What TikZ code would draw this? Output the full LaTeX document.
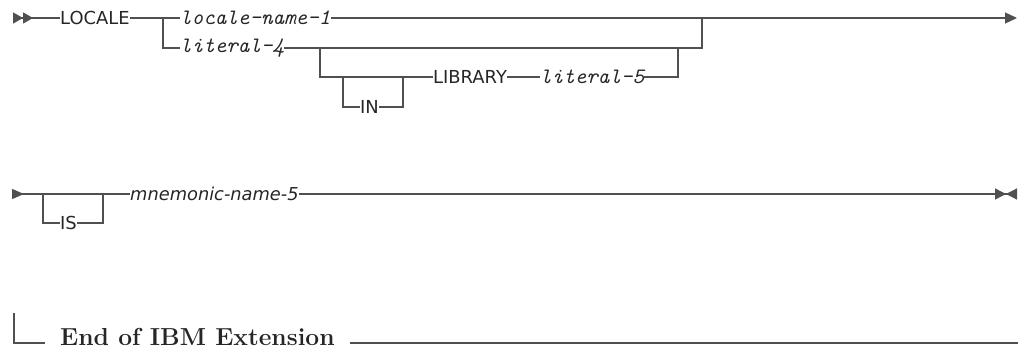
\documentclass[tikz,border=0pt]{standalone}
\usepackage{fontspec}
\usetikzlibrary{arrows.meta,positioning,calc}
\newfontfamily\railsans{DejaVu Sans}
\definecolor{railgray}{HTML}{505050}
\definecolor{inkgray}{HTML}{262626}

\begin{document}
\begin{tikzpicture}[x=1pt, y=-1pt,
    rail/.style={draw=railgray, line width=1.3pt},
    kw/.style={anchor=west, inner sep=0pt, text=inkgray, font=\fontsize{17.9}{21}\selectfont\railsans},
    var/.style={anchor=west, inner sep=0pt, text=inkgray, font=\fontsize{22}{26}\selectfont\ttfamily\itshape},
    mnem/.style={anchor=west, inner sep=0pt, text=inkgray, font=\fontsize{17.8}{21}\selectfont\railsans\itshape},
    endtxt/.style={anchor=base west, inner sep=0pt, text=inkgray, font=\fontsize{24.6}{30}\selectfont\bfseries},
    endrule/.style={draw=railgray, line width=1.7pt},
]
\useasboundingbox (0,0) rectangle (1024,351);

% first line of the diagram
\coordinate (r1s) at (13,18);
\node[kw] (locale) at (60,18) {LOCALE};
\coordinate (c1) at (163,18);
\node[var] (lname) at (180,18) {locale-name-1};
\node[var] (lit4) at (180,48) {literal-4};
\coordinate (j1) at (702,18);
\coordinate (r1e) at (1017,18);

\draw[rail, {Triangle[reversed, length=10pt, width=11pt] Triangle[reversed, length=10pt, width=11pt]}-] (r1s) -- (locale.west);
\draw[rail] (locale.east) -- (c1) -- (lname.west);
\draw[rail, -{Triangle[length=12pt, width=11pt]}] (lname.east) -- (r1e);
\draw[rail] (c1) |- (lit4.west);
\draw[rail] (lit4.east) -| (j1);

% optional LIBRARY part
\coordinate (o1) at (320,48);
\coordinate (o2) at (678,48);
\coordinate (i1) at (343,77);
\coordinate (i2) at (403,77);
\node[kw] (lib) at (433,77) {LIBRARY};
\node[var] (lit5) at (540,77) {literal-5};
\node[kw] (in) at (360,107) {IN};

\draw[rail] (o1) |- (lib.west);
\draw[rail] (lib.east) -- (lit5.west);
\draw[rail] (lit5.east) -| (o2);
\draw[rail] (i1) |- (in.west);
\draw[rail] (in.east) -| (i2);

% second line
\coordinate (r2s) at (12,194);
\coordinate (b1) at (43,194);
\coordinate (b2) at (103,194);
\node[kw] (is) at (60,223) {IS};
\node[mnem] (mname) at (130,194) {mnemonic-name-5};
\coordinate (r2e) at (1017,194);

\draw[rail, {Triangle[reversed, length=12pt, width=10pt]}-] (r2s) -- (mname.west);
\draw[rail] (b1) |- (is.west);
\draw[rail] (is.east) -| (b2);
\draw[rail, -{Triangle[length=11pt, width=11pt] Triangle[reversed, length=11pt, width=11pt]}] (mname.east) -- (r2e);

% end of extension marker
\coordinate (e0) at (14,313);
\coordinate (e1) at (45,343);
\node[endtxt] (endext) at (60,345) {End of IBM Extension};
\coordinate (e2) at (1018,343);

\draw[endrule] (e0) |- (e1);
\draw[endrule] ($(endext.east |- e1)+(15,0)$) -- (e2);

\end{tikzpicture}
\end{document}
